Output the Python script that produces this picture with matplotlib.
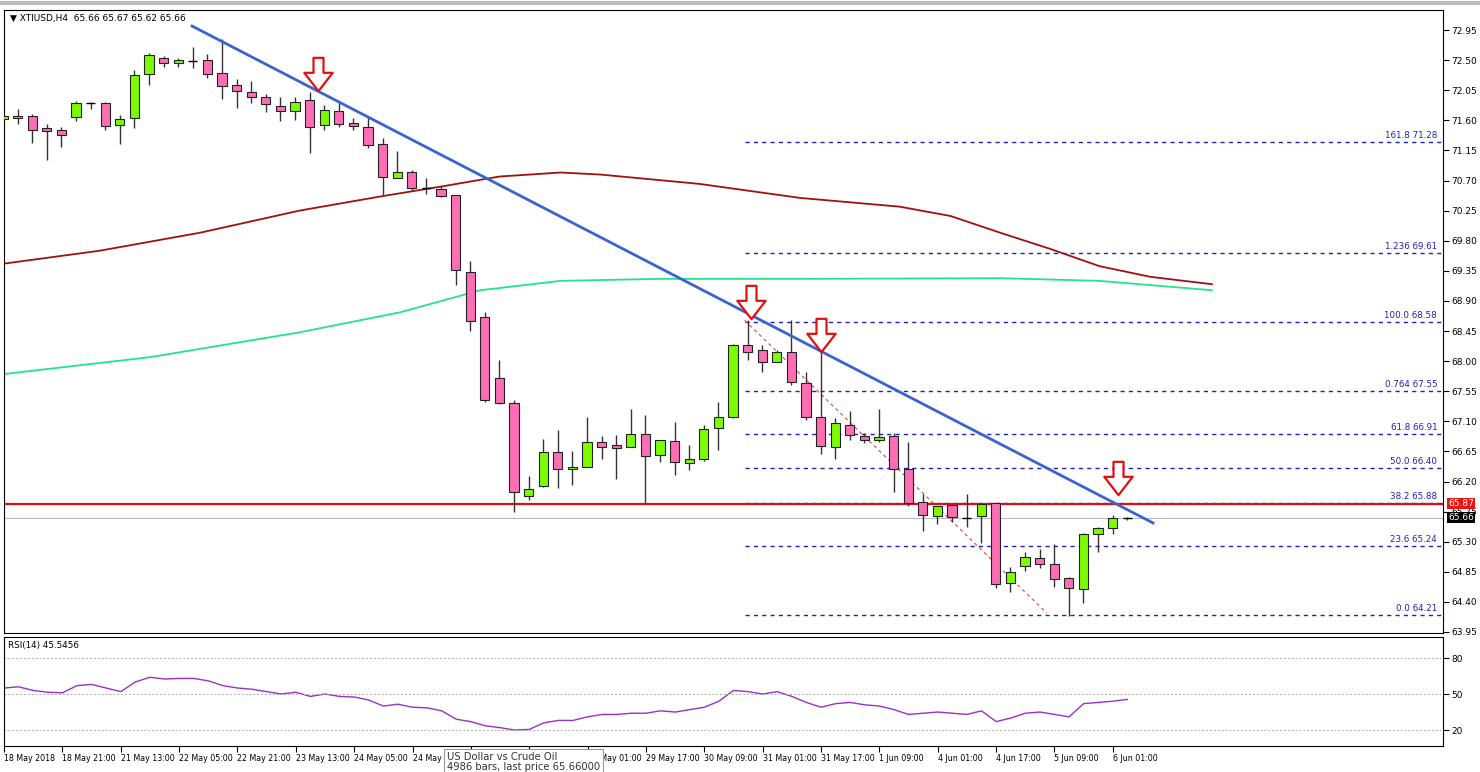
import matplotlib
matplotlib.use("Agg")
import matplotlib.pyplot as plt
import numpy as np
from matplotlib.path import Path

# ---- data ----
opens  = [71.62,71.63,71.66,71.48,71.45,71.65,71.86,71.86,71.53,71.63,72.29,72.53,72.46,72.49,72.50,72.31,72.13,72.02,71.95,71.81,
          71.74,71.90,71.53,71.74,71.56,71.50,71.25,70.74,70.83,70.59,70.58,70.48,69.33,68.66,67.75,67.38,65.99,66.13,66.64,66.38,
          66.41,66.79,66.75,66.72,66.91,66.59,66.81,66.48,66.53,67.00,67.17,68.24,68.16,67.99,68.13,67.67,67.16,66.72,67.05,66.88,
          66.82,66.88,66.39,65.90,65.68,65.85,65.66,65.68,65.88,64.68,64.94,65.06,64.96,64.75,64.59,65.42,65.51,65.66]
highs  = [71.70,71.77,71.70,71.54,71.50,71.89,71.88,71.88,71.68,72.35,72.60,72.56,72.53,72.70,72.59,72.82,72.22,72.19,71.99,71.95,
          71.95,72.02,71.83,71.87,71.63,71.65,71.34,71.14,70.86,70.74,70.62,70.48,69.50,68.73,68.02,67.42,66.28,66.84,66.97,66.65,
          67.16,66.88,66.90,67.28,67.19,66.82,67.09,66.75,67.04,67.39,68.26,68.61,68.24,68.16,68.61,67.84,68.17,67.15,67.25,66.93,
          67.28,66.93,66.79,66.02,65.83,65.85,66.02,65.88,65.88,64.92,65.15,65.19,65.27,64.77,65.43,65.52,65.70,65.67]
lows   = [71.58,71.55,71.26,71.01,71.20,71.59,71.77,71.45,71.25,71.48,72.13,72.40,72.40,72.38,72.23,71.92,71.78,71.86,71.72,71.59,
          71.60,71.11,71.45,71.50,71.45,71.19,70.48,70.74,70.56,70.50,70.45,69.14,68.45,67.39,67.36,65.74,65.92,66.12,66.10,66.15,
          66.42,66.54,66.24,66.72,65.88,66.49,66.30,66.37,66.50,66.67,67.15,68.02,67.84,67.99,67.64,67.12,66.61,66.54,66.82,66.78,
          66.79,66.04,65.83,65.46,65.57,65.60,65.52,65.28,64.61,64.55,64.86,64.91,64.62,64.19,64.38,65.15,65.41,65.62]
closes = [71.66,71.66,71.45,71.44,71.38,71.86,71.86,71.51,71.62,72.28,72.58,72.46,72.50,72.49,72.29,72.11,72.04,71.95,71.84,71.74,
          71.87,71.50,71.75,71.54,71.51,71.23,70.75,70.83,70.59,70.59,70.47,69.36,68.60,67.42,67.38,66.04,66.09,66.64,66.39,66.41,
          66.79,66.72,66.70,66.91,66.58,66.82,66.49,66.53,66.98,67.16,68.24,68.13,67.99,68.13,67.69,67.16,66.73,67.07,66.90,66.82,
          66.87,66.39,65.88,65.70,65.83,65.67,65.66,65.86,64.67,64.85,65.07,64.97,64.74,64.61,65.41,65.50,65.66,65.66]
rsi = [55,56,53,51.5,51,57,58,55,52,60,64,62.5,63,63,61,57,55,54,52,50,51.5,48,50,48,47.5,45,40,41.5,39,38.5,
       36,29,27,23.5,22,20,20.5,26,28,28,31,33,33,34,34,36,35,37,39,44,53,52,50,52,48,43,39,42,43,41,
       40,37,33,34,35,34,33,36,27,30,34,35,33,31,42,43,44,45.5]
xlabels = ["18 May 2018","18 May 21:00","21 May 13:00","22 May 05:00","22 May 21:00","23 May 13:00","24 May 05:00",
           "24 May 21:00","25 May 13:00","28 May 09:00","29 May 01:00","29 May 17:00","30 May 09:00","31 May 01:00",
           "31 May 17:00","1 Jun 09:00","4 Jun 01:00","4 Jun 17:00","5 Jun 09:00","6 Jun 01:00"]
ma_red_x = [-0.2,6.6,13.5,20.3,25.8,30,34,38.2,40.9,47.7,54.6,61.4,64.9,68.3,71.7,75.1,78.6,82.8]
ma_red_y = [69.45,69.65,69.92,70.25,70.46,70.61,70.76,70.82,70.79,70.65,70.44,70.31,70.17,69.92,69.68,69.42,69.26,69.15]
ma_grn_x = [-0.2,10.1,20.3,27.2,32.7,38.2,45,54.6,68.3,75.1,82.8]
ma_grn_y = [67.80,68.06,68.43,68.73,69.06,69.20,69.23,69.23,69.24,69.20,69.06]
fib_names = ["161.8","1.236","100.0","0.764","61.8","50.0","38.2","23.6","0.0"]
fib_vals = [71.28,69.61,68.58,67.55,66.91,66.40,65.88,65.24,64.21]
yticks = [72.95,72.50,72.05,71.60,71.15,70.70,70.25,69.80,69.35,68.90,68.45,68.00,67.55,67.10,66.65,66.20,65.75,65.30,64.85,64.40,63.95]
support = 65.87
last = 65.66
trend_x, trend_y = [12.95, 78.77], [73.01, 65.58]
fibline_x, fibline_y = [50.8, 71.5], [68.61, 64.23]
arrows_x = [21.6, 51.2, 56.0, 76.4]
arrows_y = [72.29, 68.88, 68.39, 66.25]

W, H = 1480, 772
fig = plt.figure(figsize=(W/100, H/100), dpi=100)
fig.patch.set_facecolor("white")
L, R = 4, 1443
ax = fig.add_axes([L/W, 1-633/H, (R-L)/W, (633-10)/H])
ax2 = fig.add_axes([L/W, 1-746/H, (R-L)/W, (746-637)/H])
xl = ((L-3)/14.6, (R-3)/14.6)

n = len(opens)
idx = np.arange(n)
for i in idx:
    o, h, l, c = opens[i], highs[i], lows[i], closes[i]
    col = "#7cfc00" if c > o else ("#ff6eb4" if c < o else "black")
    ax.vlines(i, l, h, color="#333333", lw=1, zorder=3)
    if c == o:
        ax.hlines(o, i-0.31, i+0.31, color="black", lw=1, zorder=4)
    else:
        ax.bar(i, abs(c-o), 0.62, bottom=min(o, c), color=col, edgecolor="#222222", lw=0.8, zorder=4)

ax.plot(ma_red_x, ma_red_y, color="#a01010", lw=1.3, zorder=2)
ax.plot(ma_grn_x, ma_grn_y, color="#22e58a", lw=1.3, zorder=2)
ax.plot(trend_x, trend_y, color="#3a63d0", lw=2, zorder=5)
ax.plot(fibline_x, fibline_y, color="#e04040", lw=0.8, ls=(0, (3, 3)), zorder=2)
ax.axhline(support, color="#dd1111", lw=1.6, zorder=2)
ax.axhline(last, color="#bbbbbb", lw=0.8, zorder=1)
for nm, v in zip(fib_names, fib_vals):
    ax.hlines(v, 50.8, xl[1], color="#2020c0", lw=1, ls=(0, (3, 3)), zorder=1)
    ax.text(xl[1]-0.4, v+0.03, f"{nm} {v:.2f}", color="#2020c0", fontsize=6.3, ha="right", va="bottom")

verts = [(-0.3, 1), (0.3, 1), (0.3, 0.1), (0.85, 0.1), (0, -1), (-0.85, 0.1), (-0.3, 0.1), (-0.3, 1)]
arrow = Path(verts, [Path.MOVETO] + [Path.LINETO]*6 + [Path.CLOSEPOLY])
ax.plot(arrows_x, arrows_y, ls="none", marker=arrow, markersize=24, mfc="white", mec="#e01010", mew=1.6, zorder=6)

ax.set_xlim(*xl)
ax.set_ylim(63.935, 73.25)
ax.yaxis.tick_right()
ax.set_yticks(yticks)
ax.set_yticklabels([f"{t:.2f}" for t in yticks], fontsize=6.5)
ax.tick_params(axis="y", direction="out", length=4, pad=2)
ax.set_xticks([])
for s in ax.spines.values():
    s.set_color("black"); s.set_linewidth(0.8)
ax.text(xl[1]+0.35, support, f"{support:.2f}", fontsize=6.5, color="white", va="center", ha="left",
        bbox=dict(boxstyle="square,pad=0.15", fc="#ee1111", ec="none"), clip_on=False, zorder=10)
ax.text(xl[1]+0.35, last, f"{last:.2f}", fontsize=6.5, color="white", va="center", ha="left",
        bbox=dict(boxstyle="square,pad=0.15", fc="black", ec="none"), clip_on=False, zorder=10)
ax.text(0.004, 0.993, "▼ XTIUSD,H4  65.66 65.67 65.62 65.66", transform=ax.transAxes, fontsize=6.5, va="top")

ax2.plot(idx, rsi, color="#9b30c8", lw=1)
for lv in [80, 50, 20]:
    ax2.axhline(lv, color="#aaaaaa", lw=0.7, ls=(0, (2, 2)))
ax2.set_xlim(*xl)
ax2.set_ylim(6.7, 97.5)
ax2.yaxis.tick_right()
ax2.set_yticks([80, 50, 20])
ax2.set_yticklabels(["80", "50", "20"], fontsize=6.5)
ax2.tick_params(axis="y", direction="out", length=4, pad=2)
ax2.set_xticks(np.arange(0, n, 4))
ax2.set_xticklabels(xlabels, fontsize=5.7, ha="left")
ax2.tick_params(axis="x", direction="out", length=4, pad=2)
for s in ax2.spines.values():
    s.set_color("black"); s.set_linewidth(0.8)
ax2.text(0.003, 0.96, "RSI(14) 45.5456", transform=ax2.transAxes, fontsize=6.3, va="top")

fig.text(447/W, 1-762/H, "US Dollar vs Crude Oil\n4986 bars, last price 65.66000", fontsize=7.2, color="#333333",
         va="center", ha="left", linespacing=1.1,
         bbox=dict(boxstyle="square,pad=0.3", fc="white", ec="#999999", lw=0.8), zorder=20)
fig.add_artist(plt.Line2D([0, 1], [1-3/H, 1-3/H], color="#bbbbbb", lw=3))

fig.savefig("out.png", dpi=100)
